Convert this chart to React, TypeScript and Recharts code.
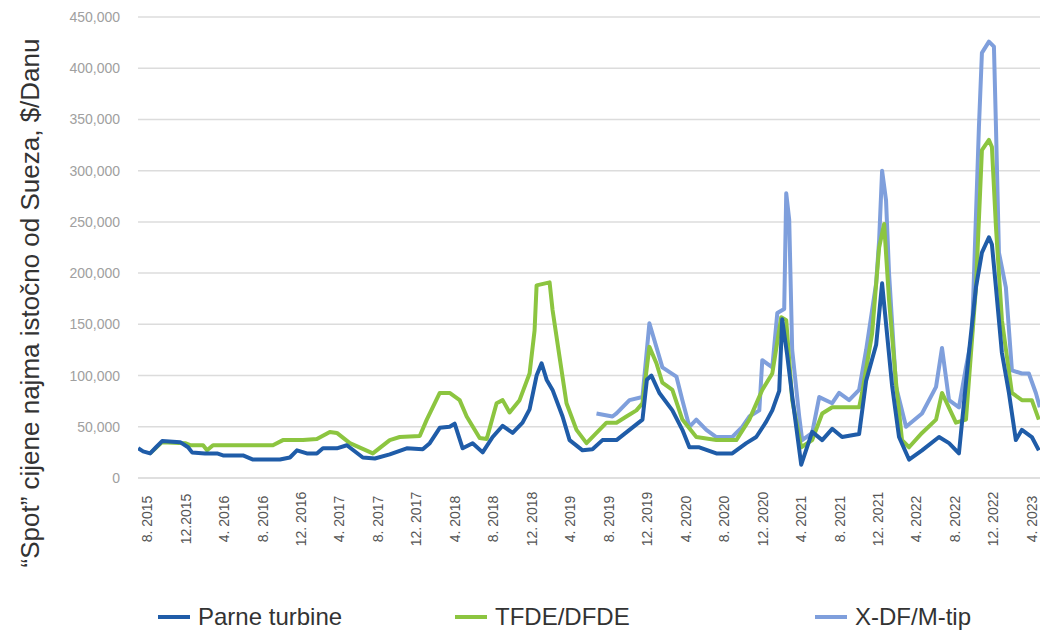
import { CartesianGrid, Line, LineChart, XAxis, YAxis } from "recharts";

// x = months since August 2015
const xTickMonths = [0, 4, 8, 12, 16, 20, 24, 28, 32, 36, 40, 44, 48, 52, 56, 60, 64, 68, 72, 76, 80, 84, 88, 92];
const xTickLabels = [
  "8. 2015", "12.2015", "4. 2016", "8. 2016", "12. 2016", "4. 2017", "8. 2017", "12. 2017",
  "4. 2018", "8. 2018", "12. 2018", "4. 2019", "8. 2019", "12. 2019", "4. 2020", "8. 2020",
  "12. 2020", "4. 2021", "8. 2021", "12. 2021", "4. 2022", "8. 2022", "12. 2022", "4. 2023"
];
const yTicks = [0, 50000, 100000, 150000, 200000, 250000, 300000, 350000, 400000, 450000];

const parneMonths = [
  -0.93, -0.42, 0.31, 0.93, 1.56, 3.43, 4.26, 4.67, 6.02, 7.27, 7.89, 9.97, 11.01, 13.81, 14.85, 15.58,
  16.61, 17.65, 18.28, 19.73, 20.77, 22.43, 23.68, 25.23, 27.0, 28.66, 29.39, 30.43, 31.46, 31.98, 32.81,
  33.85, 34.89, 35.93, 36.97, 38.01, 39.04, 39.77, 40.5, 41.02, 41.54, 42.16, 43.2, 43.93, 45.28, 46.31,
  47.35, 48.81, 50.16, 51.51, 51.97, 52.44, 53.27, 54.62, 55.66, 56.39, 57.42, 59.19, 60.85, 62.31, 63.34,
  64.38, 65.01, 65.73, 66.04, 66.56, 67.08, 68.02, 69.16, 70.2, 71.24, 72.27, 74.04, 74.77, 75.81, 76.43,
  76.95, 77.47, 78.19, 79.23, 80.58, 82.35, 83.39, 84.42, 85.46, 86.19, 86.81, 87.54, 87.85, 88.27, 88.89,
  89.62, 90.34, 90.97, 92.0, 92.73
];
const parneValues = [
  29000, 26000, 24000, 30000, 36000, 35000, 30000, 25000, 24000, 24000, 22000, 22000, 18000, 18000, 20000, 27000,
  24000, 24000, 29000, 29000, 32000, 20000, 19000, 23000, 29000, 28000, 34000, 49000, 50000, 53000, 29000,
  34000, 25000, 40000, 51000, 44000, 54000, 67000, 100000, 112000, 96000, 86000, 60000, 37000, 27000, 28000,
  37000, 37000, 47000, 57000, 96000, 100000, 83000, 66000, 47000, 30000, 30000, 24000, 24000, 34000, 40000,
  55000, 66000, 85000, 155000, 120000, 80000, 13000, 45000, 37000, 48000, 40000, 43000, 95000, 130000, 190000,
  140000, 90000, 40000, 18000, 27000, 40000, 34000, 24000, 122000, 186000, 220000, 235000, 228000, 186000, 122000,
  83000, 37000, 47000, 40000, 27000
];

const tfdeMonths = [
  0.31, 1.56, 3.95, 4.47, 5.82, 6.23, 6.85, 13.08, 14.12, 16.2, 17.65, 19.0, 19.73, 21.08, 23.47, 25.23,
  26.27, 28.35, 29.08, 30.43, 31.46, 32.5, 33.23, 34.58, 35.31, 36.34, 36.97, 37.69, 38.73, 39.77, 40.29,
  40.5, 41.85, 42.16, 42.89, 43.61, 44.65, 45.69, 46.73, 47.77, 48.81, 49.84, 50.88, 51.51, 52.23, 52.96,
  53.58, 54.62, 55.66, 57.11, 59.19, 61.27, 62.62, 63.97, 65.01, 65.94, 66.46, 67.08, 68.02, 69.16, 70.2,
  71.24, 74.04, 74.35, 75.39, 76.12, 76.64, 77.15, 77.88, 78.5, 79.23, 80.58, 82.04, 82.66, 84.11, 85.15,
  86.19, 86.81, 87.54, 87.85, 88.27, 88.89, 89.93, 90.97, 92.0, 92.73
];
const tfdeValues = [
  24000, 35000, 34000, 32000, 32000, 27000, 32000, 32000, 37000, 37000, 38000, 45000, 44000, 34000, 24000, 37000,
  40000, 41000, 57000, 83000, 83000, 76000, 60000, 39000, 38000, 73000, 76000, 64000, 76000, 102000, 144000,
  188000, 191000, 164000, 118000, 73000, 47000, 34000, 44000, 54000, 54000, 60000, 66000, 73000, 128000, 112000,
  93000, 86000, 57000, 40000, 37000, 37000, 57000, 86000, 102000, 157000, 154000, 76000, 30000, 37000, 63000,
  69000, 69000, 83000, 141000, 225000, 248000, 174000, 93000, 37000, 30000, 44000, 57000, 83000, 54000, 57000,
  186000, 320000, 330000, 323000, 245000, 154000, 83000, 76000, 76000, 57000
];

const xdfMonths = [
  46.73, 48.39, 48.81, 50.16, 51.51, 52.23, 53.58, 55.04, 55.66, 56.39, 57.11, 58.15, 59.19, 60.85, 61.89,
  62.62, 63.66, 63.97, 65.01, 65.53, 66.25, 66.46, 66.77, 67.08, 67.81, 68.12, 69.16, 69.89, 71.24, 71.96,
  73.0, 74.04, 74.77, 75.81, 76.12, 76.43, 76.84, 77.15, 77.88, 78.92, 80.58, 82.04, 82.66, 83.39, 84.42,
  85.15, 85.77, 86.5, 86.81, 87.54, 88.06, 88.27, 88.58, 89.3, 89.93, 90.97, 91.69, 92.42, 92.83
];
const xdfValues = [
  63000, 60000, 63000, 76000, 79000, 151000, 108000, 99000, 76000, 50000, 57000, 47000, 40000, 40000, 50000,
  60000, 66000, 115000, 108000, 161000, 165000, 278000, 252000, 125000, 60000, 37000, 44000, 79000, 73000, 83000,
  76000, 86000, 125000, 190000, 232000, 300000, 271000, 200000, 89000, 50000, 63000, 89000, 127000, 76000, 69000,
  108000, 138000, 343000, 415000, 426000, 421000, 343000, 220000, 186000, 105000, 102000, 102000, 83000, 69000
];

const toPoints = (months: number[], values: number[]) => months.map((m, i) => ({ m, v: values[i] }));

const series = [
  { name: "X-DF/M-tip", color: "#7f9fdc", data: toPoints(xdfMonths, xdfValues) },
  { name: "TFDE/DFDE", color: "#8cc540", data: toPoints(tfdeMonths, tfdeValues) },
  { name: "Parne turbine", color: "#1f5ca8", data: toPoints(parneMonths, parneValues) }
];

const legendItems = [
  { name: "Parne turbine", color: "#1f5ca8", left: 158 },
  { name: "TFDE/DFDE", color: "#8cc540", left: 455 },
  { name: "X-DF/M-tip", color: "#7f9fdc", left: 815 }
];

const fontFamily = "'Liberation Sans', Arial, sans-serif";

function MonthTick({ x, payload }: any) {
  const label = xTickLabels[xTickMonths.indexOf(payload.value)];
  return (
    <text
      x={x}
      y={519}
      transform={`rotate(-90 ${x} 519)`}
      textAnchor="middle"
      dominantBaseline="central"
      fontSize={14}
      fontFamily={fontFamily}
      fill="#555"
    >
      {label}
    </text>
  );
}

export default function App() {
  return (
    <div style={{ position: "absolute", left: 0, top: 0, width: 1042, height: 634, background: "#fff", fontFamily }}>
      <LineChart width={1042} height={634} margin={{ top: 17, right: 2, bottom: 96, left: 0 }}>
        <CartesianGrid vertical={false} stroke="#dcdcdc" strokeWidth={1.5} />
        <XAxis
          type="number"
          dataKey="m"
          domain={[-0.95, 92.85]}
          allowDataOverflow
          ticks={xTickMonths}
          tick={<MonthTick />}
          tickLine={false}
          axisLine={{ stroke: "#dcdcdc", strokeWidth: 1.5 }}
          height={60}
          interval={0}
        />
        <YAxis
          type="number"
          domain={[0, 450000]}
          ticks={yTicks}
          width={138}
          tickLine={false}
          axisLine={false}
          tickMargin={12}
          tick={{ fontSize: 14, fill: "#a0a0a0", fontFamily }}
          tickFormatter={(v: number) => v.toLocaleString("en-US")}
        />
        {series.map((s) => (
          <Line
            key={s.name}
            data={s.data}
            dataKey="v"
            name={s.name}
            type="linear"
            stroke={s.color}
            strokeWidth={4}
            strokeLinejoin="round"
            dot={false}
            isAnimationActive={false}
          />
        ))}
      </LineChart>
      <div
        style={{
          position: "absolute",
          left: 30,
          top: 303,
          transform: "translate(-50%, -50%) rotate(-90deg)",
          whiteSpace: "nowrap",
          fontSize: 26,
          color: "#333"
        }}
      >
        “Spot” cijene najma istočno od Sueza, $/Danu
      </div>
      {legendItems.map((item) => (
        <div
          key={item.name}
          style={{ position: "absolute", left: item.left, top: 603, display: "flex", alignItems: "center", whiteSpace: "nowrap" }}
        >
          <span style={{ display: "inline-block", width: 32, height: 4, background: item.color, marginRight: 8 }} />
          <span style={{ fontSize: 24, color: "#333" }}>{item.name}</span>
        </div>
      ))}
    </div>
  );
}
